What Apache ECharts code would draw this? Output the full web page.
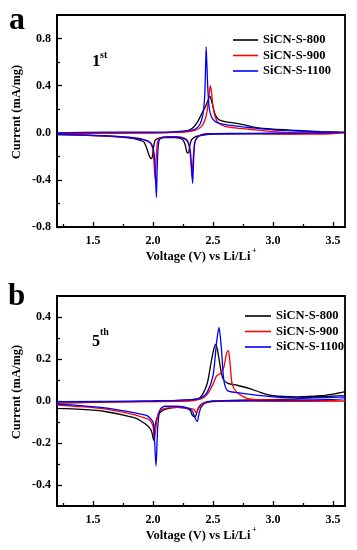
<!DOCTYPE html>
<html><head><meta charset="utf-8">
<script src="https://cdn.jsdelivr.net/npm/echarts@6/dist/echarts.min.js"></script>
<style>html,body{margin:0;padding:0;background:#fff}#c{width:357px;height:550px}</style>
</head><body><div id="c"></div>
<script>
// ---- Panel a (1st cycle): closed CV loops, forward 1.2->3.6 then reverse 3.6->1.2 ----
var a800V = [1.2,1.5,1.8,2.0,2.2,2.28,2.33,2.37,2.40,2.42,2.44,2.46,2.47,2.48,2.50,2.52,2.55,2.6,2.7,2.77,2.85,3.0,3.2,3.4,3.6,
             3.6,3.3,3.0,2.7,2.5,2.42,2.36,2.32,2.305,2.295,2.285,2.27,2.25,2.22,2.18,2.1,2.05,2.02,2.005,1.995,1.985,1.975,1.96,1.94,1.92,1.88,1.82,1.6,1.4,1.2];
var a800I = [-0.01,-0.005,0.0,0.0,0.005,0.015,0.04,0.09,0.15,0.19,0.23,0.28,0.31,0.30,0.22,0.15,0.11,0.095,0.08,0.065,0.045,0.03,0.02,0.01,0.005,
             0.0,-0.005,-0.01,-0.01,-0.012,-0.02,-0.03,-0.06,-0.12,-0.17,-0.17,-0.11,-0.06,-0.045,-0.04,-0.04,-0.045,-0.06,-0.12,-0.2,-0.22,-0.21,-0.17,-0.11,-0.075,-0.06,-0.045,-0.028,-0.02,-0.015];
var a900V = [1.2,2.0,2.25,2.35,2.40,2.43,2.45,2.465,2.477,2.487,2.50,2.52,2.55,2.6,2.7,2.8,2.9,3.0,3.2,3.6,
             3.6,3.4,3.1,2.9,2.5,2.42,2.38,2.35,2.34,2.33,2.326,2.318,2.305,2.29,2.26,2.2,2.1,2.05,2.035,2.025,2.018,2.01,2.0,1.98,1.94,1.9,1.8,1.6,1.4,1.2];
var a900I = [-0.005,0.0,0.005,0.02,0.05,0.1,0.18,0.3,0.40,0.35,0.22,0.13,0.08,0.055,0.04,0.03,0.02,0.01,0.0,0.0,
             -0.005,-0.012,-0.012,-0.008,-0.008,-0.012,-0.03,-0.07,-0.15,-0.3,-0.38,-0.28,-0.13,-0.07,-0.045,-0.035,-0.035,-0.05,-0.1,-0.25,-0.40,-0.28,-0.15,-0.09,-0.065,-0.05,-0.038,-0.026,-0.02,-0.015];
var a1100V = [1.2,1.6,2.0,2.2,2.3,2.35,2.39,2.415,2.43,2.437,2.443,2.45,2.458,2.47,2.49,2.52,2.57,2.65,2.75,2.85,3.0,3.2,3.4,3.6,
              3.6,3.2,2.8,2.5,2.45,2.38,2.35,2.34,2.33,2.322,2.31,2.29,2.26,2.2,2.12,2.06,2.045,2.035,2.028,2.02,2.01,1.99,1.96,1.9,1.8,1.6,1.4,1.2];
var a1100I = [0.0,0.005,0.005,0.01,0.02,0.03,0.07,0.15,0.3,0.5,0.73,0.55,0.35,0.2,0.13,0.095,0.075,0.062,0.05,0.04,0.025,0.015,0.008,0.003,
              0.0,-0.003,-0.005,-0.008,-0.01,-0.03,-0.08,-0.2,-0.43,-0.3,-0.15,-0.08,-0.05,-0.035,-0.035,-0.05,-0.1,-0.3,-0.55,-0.35,-0.18,-0.1,-0.07,-0.055,-0.04,-0.025,-0.018,-0.012];

// ---- Panel b (5th cycle) ----
var b800V = [1.2,1.6,2.0,2.3,2.39,2.45,2.48,2.50,2.52,2.535,2.55,2.58,2.62,2.7,2.8,2.9,3.0,3.2,3.4,3.5,3.6,
             3.6,3.4,3.2,2.8,2.5,2.42,2.38,2.35,2.33,2.31,2.28,2.2,2.1,2.05,2.02,2.005,1.995,1.985,1.96,1.9,1.85,1.6,1.4,1.2];
var b800I = [-0.01,-0.005,0.0,0.005,0.015,0.08,0.17,0.23,0.27,0.25,0.2,0.11,0.085,0.075,0.06,0.04,0.025,0.02,0.025,0.033,0.045,
             0.03,0.02,0.01,0.005,0.0,-0.01,-0.03,-0.075,-0.07,-0.045,-0.035,-0.03,-0.04,-0.06,-0.11,-0.187,-0.16,-0.14,-0.12,-0.095,-0.08,-0.05,-0.04,-0.035];
var b900V = [1.2,2.3,2.4,2.45,2.5,2.53,2.56,2.59,2.61,2.625,2.635,2.645,2.66,2.7,2.8,3.0,3.6,
             3.6,3.0,2.6,2.42,2.38,2.36,2.34,2.3,2.2,2.1,2.05,2.03,2.012,2.0,1.97,1.9,1.85,1.6,1.4,1.2];
var b900I = [-0.005,0.0,0.01,0.03,0.08,0.12,0.13,0.16,0.22,0.24,0.22,0.16,0.08,0.04,0.01,0.005,0.0,
             -0.002,-0.002,0.0,-0.01,-0.035,-0.055,-0.04,-0.035,-0.03,-0.035,-0.05,-0.1,-0.18,-0.12,-0.09,-0.075,-0.066,-0.038,-0.027,-0.019];
var b1100V = [1.2,2.0,2.3,2.4,2.45,2.5,2.53,2.55,2.57,2.59,2.62,2.7,3.0,3.3,3.6,
              3.6,3.0,2.6,2.45,2.40,2.38,2.37,2.35,2.33,2.30,2.2,2.1,2.06,2.04,2.025,2.01,2.0,1.95,1.85,1.6,1.4,1.2];
var b1100I = [-0.003,0.0,0.005,0.015,0.04,0.12,0.28,0.35,0.25,0.1,0.05,0.04,0.02,0.015,0.02,
              0.01,0.003,0.0,-0.005,-0.03,-0.07,-0.097,-0.08,-0.05,-0.035,-0.025,-0.025,-0.04,-0.12,-0.31,-0.15,-0.1,-0.07,-0.057,-0.033,-0.022,-0.015];

var names = ['SiCN-S-800','SiCN-S-900','SiCN-S-1100'];
var colors = ['#000000','#ff0000','#0000ff'];
var xLabels = [1.5,2.0,2.5,3.0,3.5];
var xMinor = [1.25,1.75,2.25,2.75,3.25];
var yaLabels = [-0.8,-0.4,0.0,0.4,0.8];
var yaMinor = [-0.6,-0.2,0.2,0.6];
var ybLabels = [-0.4,-0.2,0.0,0.2,0.4];
var ybMinor = [-0.3,-0.1,0.1,0.3];

function zip(v,i){ return v.map(function(x,k){ return [x,i[k]]; }); }
var FONT = 'Liberation Serif';
var lbl = {color:'#000',fontFamily:FONT,fontWeight:'bold',fontSize:12};
function xAx(grid, minor){
  return {type:'value',gridIndex:grid,min:1.2,max:3.6,position:'bottom',
    axisLine:{show:!minor,onZero:false,lineStyle:{color:'#000',width:1.8}},
    axisTick:{show:true,inside:true,length:minor?3:5,customValues:minor?xMinor:xLabels,lineStyle:{color:'#000',width:1.3}},
    axisLabel:{show:!minor,customValues:xLabels,formatter:function(v){return v.toFixed(1);},margin:8,...lbl},
    splitLine:{show:false}};
}
function yAx(grid, minor, labs, mins, mn, mx){
  return {type:'value',gridIndex:grid,min:mn,max:mx,position:'left',
    axisLine:{show:!minor,onZero:false,lineStyle:{color:'#000',width:1.8}},
    axisTick:{show:true,inside:true,length:minor?3:5,customValues:minor?mins:labs,lineStyle:{color:'#000',width:1.3}},
    axisLabel:{show:!minor,customValues:labs,formatter:function(v){return v.toFixed(1);},margin:6,...lbl},
    splitLine:{show:false}};
}
var series = [];
var aSets = [[a800V,a800I],[a900V,a900I],[a1100V,a1100I]];
var bSets = [[b800V,b800I],[b900V,b900I],[b1100V,b1100I]];
[0,1,2].forEach(function(k){
  series.push({type:'line',name:names[k],xAxisIndex:0,yAxisIndex:0,data:zip(aSets[k][0],aSets[k][1]),
    symbol:'none',smooth:0.25,lineStyle:{color:colors[k],width:1.3},itemStyle:{color:colors[k]},animation:false});
});
[0,1,2].forEach(function(k){
  series.push({type:'line',name:names[k],xAxisIndex:2,yAxisIndex:2,data:zip(bSets[k][0],bSets[k][1]),
    symbol:'none',smooth:0.25,lineStyle:{color:colors[k],width:1.3},itemStyle:{color:colors[k]},animation:false});
});
var legText = {color:'#000',fontFamily:FONT,fontWeight:'bold',fontSize:12.5,lineHeight:14};
var chart = echarts.init(document.getElementById('c'),null,{renderer:'canvas'});
chart.setOption({
  animation:false,
  grid:[{left:57,top:15,right:12,height:212,show:true,borderColor:'#000',borderWidth:1.8},
        {left:57,top:296,right:12,height:210,show:true,borderColor:'#000',borderWidth:1.8}],
  xAxis:[xAx(0,false),xAx(0,true),xAx(1,false),xAx(1,true)],
  yAxis:[yAx(0,false,yaLabels,yaMinor,-0.8,1.0),yAx(0,true,yaLabels,yaMinor,-0.8,1.0),
         yAx(1,false,ybLabels,ybMinor,-0.5,0.5),yAx(1,true,ybLabels,ybMinor,-0.5,0.5)],
  legend:[{data:names,orient:'vertical',left:233,top:33,padding:0,icon:'rect',itemWidth:25,itemHeight:1.6,itemGap:1.5,textStyle:legText},
          {data:names,orient:'vertical',left:245,top:309,padding:0,icon:'rect',itemWidth:26,itemHeight:1.6,itemGap:1.5,textStyle:legText}],
  series:series,
  graphic:[
    {type:'text',left:9,top:5,style:{text:'a',font:'bold 32px "Liberation Serif"',fill:'#000'}},
    {type:'text',left:8,top:281,style:{text:'b',font:'bold 31px "Liberation Serif"',fill:'#000'}},
    {type:'text',x:92,y:53,style:{text:'1',font:'bold 17px "Liberation Serif"',fill:'#000'}},
    {type:'text',x:100,y:50,style:{text:'st',font:'bold 10px "Liberation Serif"',fill:'#000'}},
    {type:'text',x:92,y:334,style:{text:'5',font:'bold 16px "Liberation Serif"',fill:'#000'}},
    {type:'text',x:100,y:327,style:{text:'th',font:'bold 10px "Liberation Serif"',fill:'#000'}},
    {type:'text',x:17,y:112,rotation:Math.PI/2,style:{text:'Current (mA/mg)',font:'bold 12.5px "Liberation Serif"',fill:'#000',align:'center',verticalAlign:'middle'}},
    {type:'text',x:17,y:392,rotation:Math.PI/2,style:{text:'Current (mA/mg)',font:'bold 12.5px "Liberation Serif"',fill:'#000',align:'center',verticalAlign:'middle'}},
    {type:'text',x:198,y:257,style:{text:'Voltage (V) vs Li/Li',font:'bold 12.5px "Liberation Serif"',fill:'#000',align:'center',verticalAlign:'middle'}},
    {type:'text',x:252,y:247,style:{text:'+',font:'bold 8px "Liberation Serif"',fill:'#000'}},
    {type:'text',x:198,y:536,style:{text:'Voltage (V) vs Li/Li',font:'bold 12.5px "Liberation Serif"',fill:'#000',align:'center',verticalAlign:'middle'}},
    {type:'text',x:252,y:526,style:{text:'+',font:'bold 8px "Liberation Serif"',fill:'#000'}}
  ]
});
</script></body></html>
